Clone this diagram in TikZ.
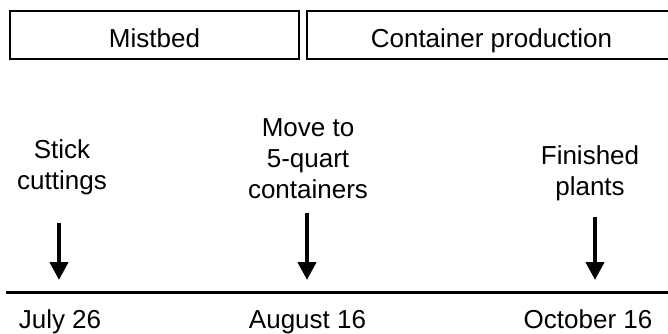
\documentclass[tikz,border=0pt]{standalone}
\usepackage{fontspec}
\setmainfont{Liberation Sans}
\usetikzlibrary{positioning, arrows.meta}

\begin{document}
\begin{tikzpicture}[
      x=1pt, y=-1pt,
      txt/.style={font=\fontsize{26pt}{31pt}\selectfont, inner sep=0pt, align=center},
      phase/.style={txt, rectangle, draw=black, line width=2pt, minimum height=48pt,
        text height=24pt, text depth=0pt},
      arr/.style={-{Triangle[width=18pt, length=18pt]}, line width=4pt, black},
      axis/.style={line width=3pt, black}
    ]
    \useasboundingbox (0,0) rectangle (668,333);

    \node[phase, minimum width=289pt] (mist) at (154.5,35) {Mistbed};
    \node[phase, minimum width=369pt] (cont) at (491.5,35) {Container production};

    \node[txt, anchor=base] (stick) at (62,189) {Stick\\cuttings};
    \node[txt, anchor=base] (move) at (308,198) {Move to\\5-quart\\containers};
    \node[txt, anchor=base] (fin) at (590,195) {Finished\\plants};

    \coordinate (tlA) at (6,292);
    \coordinate (tlB) at (668,292);
    \draw[axis] (tlA) -- (tlB);

    \coordinate (s1) at (59,223);  \coordinate (e1) at (59,280);
    \coordinate (s2) at (307,213); \coordinate (e2) at (307,280);
    \coordinate (s3) at (595,217); \coordinate (e3) at (595,280);
    \draw[arr] (s1) -- (e1);
    \draw[arr] (s2) -- (e2);
    \draw[arr] (s3) -- (e3);

    \node[txt, anchor=base] (jul) at (60,328) {July 26};
    \node[txt, anchor=base] (aug) at (307.5,328) {August 16};
    \node[txt, anchor=base] (oct) at (588,328) {October 16};
  \end{tikzpicture}
\end{document}
